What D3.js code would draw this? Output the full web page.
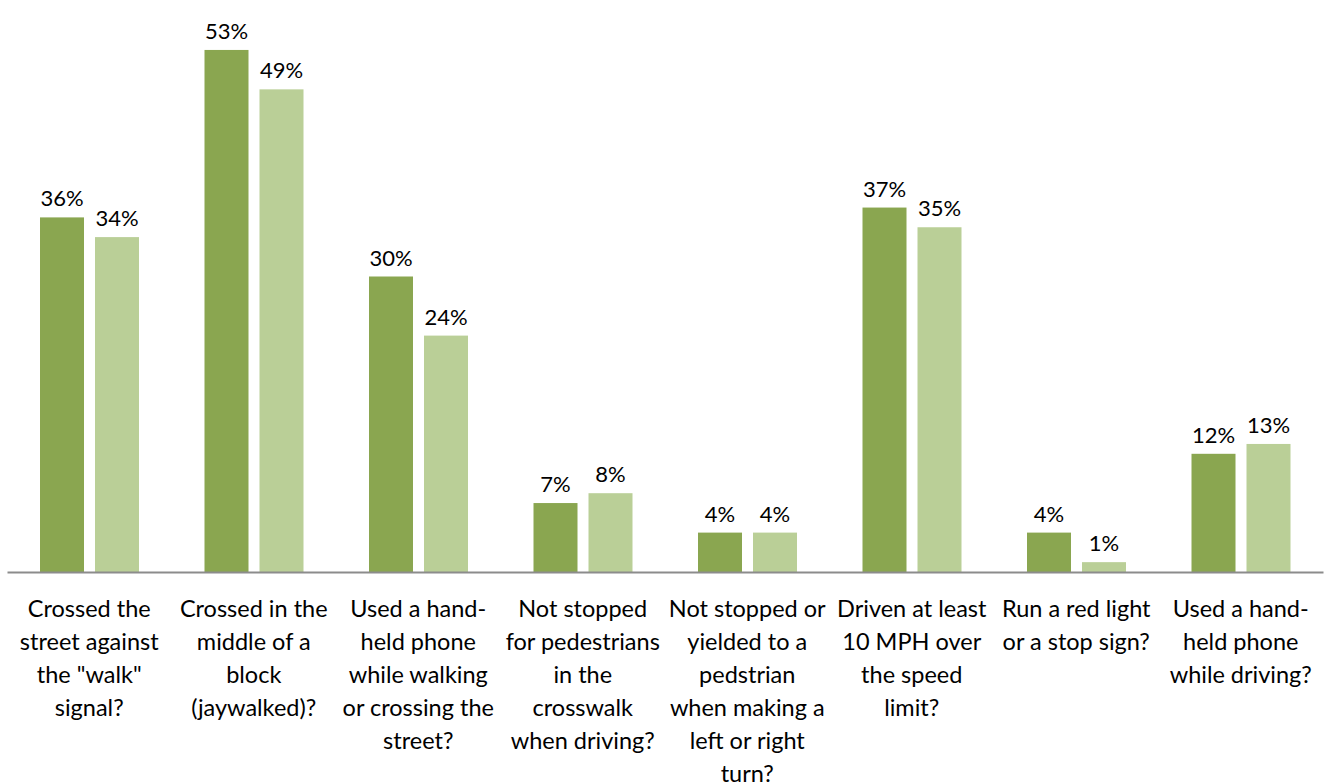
<!DOCTYPE html>
<html>
<head>
<meta charset="utf-8">
<script src="https://cdn.jsdelivr.net/npm/d3@7"></script>
<style>
  body { margin: 0; background: #fff; }
  svg { display: block; font-family: Lato, "Open Sans", sans-serif; }
</style>
</head>
<body>
<svg width="1330" height="782"></svg>
<script>
// categories (wrapped as in the original)
var categories = [
  ["Crossed the", "street against", "the \"walk\"", "signal?"],
  ["Crossed in the", "middle of a", "block", "(jaywalked)?"],
  ["Used a hand-", "held phone", "while walking", "or crossing the", "street?"],
  ["Not stopped", "for pedestrians", "in the", "crosswalk", "when driving?"],
  ["Not stopped or", "yielded to a", "pedstrian", "when making a", "left or right", "turn?"],
  ["Driven at least", "10 MPH over", "the speed", "limit?"],
  ["Run a red light", "or a stop sign?"],
  ["Used a hand-", "held phone", "while driving?"]
];
var seriesNames = ["A", "B"];
var seriesA = [36, 53, 30, 7, 4, 37, 4, 12];
var seriesB = [34, 49, 24, 8, 4, 35, 1, 13];
var colors = ["#8aa650", "#bacf97"];

var svg = d3.select("svg");
var baseY = 572;

var keys = d3.range(categories.length);
var x0 = d3.scaleBand().domain(keys).range([7, 1323]).padding(0);
var x1 = d3.scaleBand().domain(seriesNames).range([33, 132]).paddingInner(0.2);
var y = d3.scaleLinear().domain([0, 58]).range([baseY, baseY - 58 * 9.85]);

var rows = keys.map(function(i) {
  return { i: i, vals: [seriesA[i], seriesB[i]] };
});

var groups = svg.selectAll(".grp")
  .data(rows)
  .enter().append("g")
    .attr("class", "grp")
    .attr("transform", function(d) { return "translate(" + x0(d.i) + ",0)"; });

groups.selectAll("rect")
  .data(function(d) { return d.vals.map(function(v, k) { return { k: k, v: v }; }); })
  .enter().append("rect")
    .attr("x", function(d) { return x1(seriesNames[d.k]); })
    .attr("y", function(d) { return y(d.v); })
    .attr("width", x1.bandwidth())
    .attr("height", function(d) { return baseY - y(d.v); })
    .style("fill", function(d) { return colors[d.k]; });

groups.selectAll(".val")
  .data(function(d) { return d.vals.map(function(v, k) { return { k: k, v: v }; }); })
  .enter().append("text")
    .attr("class", "val")
    .attr("x", function(d) { return x1(seriesNames[d.k]) + x1.bandwidth() / 2; })
    .attr("y", function(d) { return y(d.v) - 11; })
    .attr("text-anchor", "middle")
    .style("font-size", "22px")
    .style("fill", "#000")
    .text(function(d) { return d.v + "%"; });

// x axis line
var xAxis = svg.append("g")
  .attr("transform", "translate(0," + baseY + ")")
  .call(d3.axisBottom(x0).tickSize(0).tickFormat(""));
xAxis.select(".domain").attr("stroke", "#8c8c8c").attr("stroke-width", 2);

// wrapped category labels
var lbl = svg.selectAll(".cat")
  .data(rows)
  .enter().append("text")
    .attr("class", "cat")
    .attr("x", function(d) { return x0(d.i) + x0.bandwidth() / 2; })
    .attr("y", 617)
    .attr("text-anchor", "middle")
    .style("font-size", "23.5px")
    .style("fill", "#000");

lbl.selectAll("tspan")
  .data(function(d) { return categories[d.i].map(function(t, j) { return { t: t, j: j, cx: x0(d.i) + x0.bandwidth() / 2 }; }); })
  .enter().append("tspan")
    .attr("x", function(d) { return d.cx; })
    .attr("y", function(d) { return 617 + d.j * 33; })
    .text(function(d) { return d.t; });
</script>
</body>
</html>
